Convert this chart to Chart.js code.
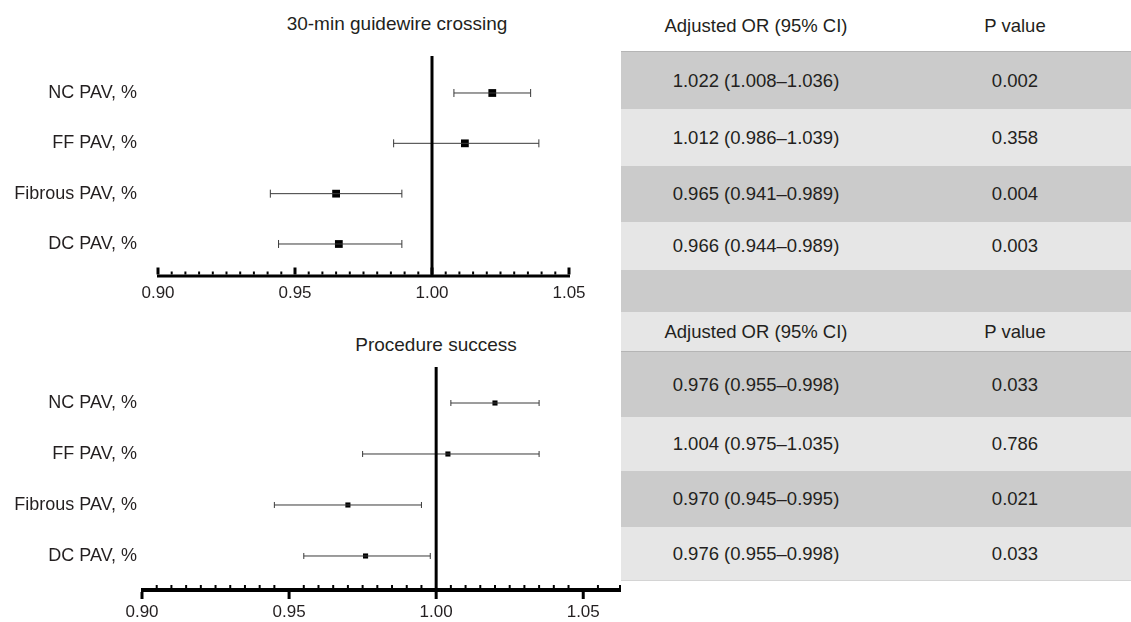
<!DOCTYPE html>
<html>
<head>
<meta charset="utf-8">
<script src="https://cdn.jsdelivr.net/npm/chart.js@4.4.1/dist/chart.umd.min.js"></script>
<style>
  html, body { margin: 0; padding: 0; background: #fff; }
  body { width: 1131px; height: 622px; position: relative; overflow: hidden;
         font-family: "Liberation Sans", Arial, sans-serif; color: #231f20; }
  canvas { position: absolute; }
  .title { position: absolute; font-size: 19px; text-align: center; white-space: nowrap; }
  #table { position: absolute; left: 621px; top: 0; width: 510px; height: 622px; }
  .row { position: absolute; left: 0; width: 510px; }
  .cell { position: absolute; top: 0; height: 100%; width: 240px; display: flex;
          align-items: center; justify-content: center; font-size: 18.5px; white-space: nowrap; }
</style>
</head>
<body>
<div class="title" style="left:247px;top:13px;width:300px">30-min guidewire crossing</div>
<div class="title" style="left:286px;top:334px;width:300px">Procedure success</div>
<canvas id="crossing" width="620" height="310" style="left:0;top:0"></canvas>
<canvas id="success" width="621" height="312" style="left:0;top:310px"></canvas>
<div id="table"></div>
<script>
const rowLabels = ['NC PAV, %', 'FF PAV, %', 'Fibrous PAV, %', 'DC PAV, %'];
const xTickLabels = ['0.90', '0.95', '1.00', '1.05'];
const tableColumns = ['Adjusted OR (95% CI)', 'P value'];

// 30-min guidewire crossing
const crossingOR = [1.022, 1.012, 0.965, 0.966];
const crossingLow = [1.008, 0.986, 0.941, 0.944];
const crossingHigh = [1.036, 1.039, 0.989, 0.989];
const crossingText = ['1.022 (1.008\u20131.036)', '1.012 (0.986\u20131.039)', '0.965 (0.941\u20130.989)', '0.966 (0.944\u20130.989)'];
const crossingP = ['0.002', '0.358', '0.004', '0.003'];

// Procedure success (plotted points as drawn, table text as printed)
const successOR = [1.020, 1.004, 0.970, 0.976];
const successLow = [1.005, 0.975, 0.945, 0.955];
const successHigh = [1.035, 1.035, 0.995, 0.998];
const successText = ['0.976 (0.955\u20130.998)', '1.004 (0.975\u20131.035)', '0.970 (0.945\u20130.995)', '0.976 (0.955\u20130.998)'];
const successP = ['0.033', '0.786', '0.021', '0.033'];

const FONT = '"Liberation Sans", Arial, sans-serif';
const TEXT = '#231f20';
const n = rowLabels.length;
const yOf = i => n - 1 - i;

function tickLabel(v) {
  const s = v.toFixed(2);
  return xTickLabels.includes(s) && Math.abs(v - parseFloat(s)) < 1e-6 ? s : '';
}

// axis line with small ticks drawn from the x scale
const axisTicks = {
  id: 'axisTicks',
  afterDraw(chart, args, opts) {
    const { ctx, chartArea, scales: { x } } = chart;
    const y0 = chartArea.bottom;
    const half = opts.axisWidth / 2;
    ctx.save();
    ctx.strokeStyle = '#000';
    ctx.lineWidth = opts.axisWidth;
    ctx.beginPath();
    ctx.moveTo(x.left - 1, y0);
    ctx.lineTo(x.right + 1, y0);
    ctx.stroke();
    x.ticks.forEach((t, i) => {
      const px = x.getPixelForTick(i);
      const major = tickLabel(t.value) !== '';
      ctx.lineWidth = major ? 3 : 2;
      ctx.beginPath();
      if (major) {
        const dir = opts.majorDir;
        ctx.moveTo(px, y0 + dir * half);
        ctx.lineTo(px, y0 + dir * (half + 7));
      } else {
        ctx.moveTo(px, y0 - half);
        ctx.lineTo(px, y0 - half - 3);
      }
      ctx.stroke();
    });
    ctx.restore();
  }
};

function forestChart(id, c) {
  const datasets = [];
  // OR = 1 reference line
  datasets.push({
    data: [{ x: 1, y: c.yMin }, { x: 1, y: c.yMax }],
    showLine: true, borderColor: '#000', borderWidth: 3, pointRadius: 0
  });
  // confidence intervals with end caps
  rowLabels.forEach((_, i) => {
    datasets.push({
      data: [{ x: c.low[i], y: yOf(i) }, { x: c.high[i], y: yOf(i) }],
      showLine: true, borderColor: '#3a3a3a', borderWidth: 1,
      pointStyle: 'line', pointRotation: 90, pointRadius: c.cap,
      pointBorderColor: '#3a3a3a', pointBorderWidth: 1
    });
  });
  // point estimates
  datasets.push({
    data: c.or.map((v, i) => ({ x: v, y: yOf(i) })),
    pointStyle: 'rect', pointRadius: c.marker,
    backgroundColor: '#000', borderColor: '#000', borderWidth: 0
  });

  new Chart(document.getElementById(id), {
    type: 'scatter',
    data: { datasets },
    options: {
      responsive: false,
      animation: false,
      events: [],
      layout: { autoPadding: false, padding: { left: 0, top: c.top, right: c.right, bottom: 0 } },
      plugins: {
        legend: { display: false },
        tooltip: { enabled: false },
        axisTicks: { axisWidth: c.axisWidth, majorDir: c.majorDir }
      },
      scales: {
        x: {
          type: 'linear', min: 0.9, max: c.xMax,
          afterFit: s => { s.height = c.xHeight; s.paddingLeft = 0; s.paddingRight = 0; },
          grid: { display: false, drawTicks: false },
          border: { display: false },
          ticks: {
            stepSize: 0.005, autoSkip: false, maxRotation: 0, minRotation: 0,
            padding: c.xPad, color: TEXT, font: { family: FONT, size: 17 },
            callback: v => tickLabel(v)
          }
        },
        y: {
          type: 'linear', min: c.yMin, max: c.yMax,
          afterFit: s => { s.width = c.left; },
          afterBuildTicks: s => { s.ticks = rowLabels.map((_, i) => ({ value: yOf(i) })); },
          grid: { display: false, drawTicks: false },
          border: { display: false },
          ticks: {
            padding: c.labelGap, color: TEXT, font: { family: FONT, size: 18 },
            callback: v => rowLabels[n - 1 - Math.round(v)]
          }
        }
      }
    },
    plugins: [axisTicks]
  });
}

forestChart('crossing', {
  or: crossingOR, low: crossingLow, high: crossingHigh,
  left: 158, right: 51, top: 56, xHeight: 34, xMax: 1.05,
  yMin: -0.636, yMax: 3.735, labelGap: 21, xPad: 7,
  marker: 5.5, cap: 4, axisWidth: 3, majorDir: -1
});

forestChart('success', {
  or: successOR, low: successLow, high: successHigh,
  left: 142, right: 1, top: 57, xHeight: 32, xMax: 1.0625,
  yMin: -0.667, yMax: 3.706, labelGap: 5, xPad: 12,
  marker: 3.6, cap: 3, axisWidth: 4, majorDir: 1
});

// table on the right
const DARK = '#cbcbcb', LIGHT = '#e6e6e6';
const table = document.getElementById('table');
function addRow(top, h, bg, texts, line) {
  const r = document.createElement('div');
  r.className = 'row';
  r.style.top = top + 'px';
  r.style.height = h + 'px';
  r.style.background = bg;
  if (line) r.style.borderBottom = line;
  (texts || []).forEach((t, j) => {
    const cdiv = document.createElement('div');
    cdiv.className = 'cell';
    cdiv.style.left = (j === 0 ? 15 : 274) + 'px';
    cdiv.textContent = t;
    r.appendChild(cdiv);
  });
  table.appendChild(r);
}
addRow(0, 51, '#fff', tableColumns, '1px solid #b5b5b5');
const topRows = [[52, 57], [109, 57], [166, 56], [222, 48]];
topRows.forEach(([t, h], i) => addRow(t, h, i % 2 ? LIGHT : DARK, [crossingText[i], crossingP[i]]));
addRow(270, 42, DARK, []);
addRow(312, 39, LIGHT, tableColumns, '1px solid #b5b5b5');
const bottomRows = [[352, 65], [417, 54], [471, 56], [527, 53]];
bottomRows.forEach(([t, h], i) => addRow(t, h, i % 2 ? LIGHT : DARK, [successText[i], successP[i]]));
addRow(580, 1, '#d4d4d4', []);
</script>
</body>
</html>
